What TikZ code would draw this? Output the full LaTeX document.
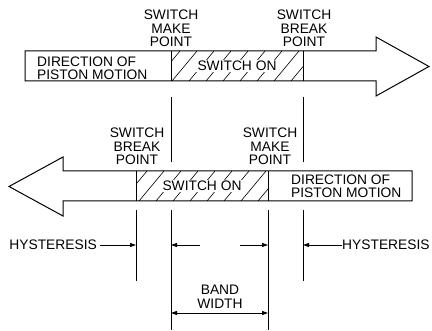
\documentclass[tikz,border=0pt]{standalone}
\usepackage{fontspec}
\setmainfont{Liberation Sans}
\usetikzlibrary{arrows.meta}
\begin{document}
\begin{tikzpicture}[x=1pt,y=-1pt,
  lbl/.style={font=\fontsize{13.8}{13.5}\selectfont, align=center, inner sep=0pt},
  lblleft/.style={font=\fontsize{13.8}{12.6}\selectfont, align=left, inner sep=0pt, anchor=north west},
  outline/.style={line width=1pt, line join=miter},
  hatchline/.style={line width=0.6pt},
  vline/.style={line width=1pt},
  tipline/.style={line width=0.9pt, -{Triangle[length=6pt,width=4pt]}},
  bothtip/.style={line width=0.9pt, {Triangle[length=6pt,width=4pt]}-{Triangle[length=6pt,width=4pt]}},
  onlabel/.style={font=\fontsize{13.8}{14}\selectfont, inner sep=1.5pt, fill=white}
  ]
\useasboundingbox (0,0) rectangle (432,331);

% ---------- top arrow (to the right) ----------
\begin{scope}
  \clip (171,51) rectangle (303,81);
  \foreach \k in {0,...,9} \draw[hatchline] ({180+17*\k},51) -- ({155+17*\k},81);
\end{scope}
\draw[outline] (25,51) -- (376,51) -- (376,37) -- (429,66.5) -- (376,96) -- (376,81) -- (25,81) -- cycle;
\draw[vline] (171,51) -- (171,81);
\draw[vline] (303,51) -- (303,81);
\node[onlabel] (on1) at (237,66) {SWITCH ON};
\node[lblleft] (dir1) at (37,57) {DIRECTION OF\\PISTON MOTION};
\node[lbl, anchor=north] (make1) at (171,10) {SWITCH\\MAKE\\POINT};
\node[lbl, anchor=north] (break1) at (304,10) {SWITCH\\BREAK\\POINT};

% ---------- bottom arrow (to the left) ----------
\begin{scope}
  \clip (136,171) rectangle (268,201);
  \foreach \k in {0,...,9} \draw[hatchline] ({147+17*\k},171) -- ({122+17*\k},201);
\end{scope}
\draw[outline] (412,171) -- (63,171) -- (63,157) -- (9,186.5) -- (63,216) -- (63,201) -- (412,201) -- cycle;
\draw[vline] (136,171) -- (136,201);
\draw[vline] (268,171) -- (268,201);
\node[onlabel] (on2) at (202,186) {SWITCH ON};
\node[lblleft] (dir2) at (291,175) {DIRECTION OF\\PISTON MOTION};
\node[lbl, anchor=north] (break2) at (137,128) {SWITCH\\BREAK\\POINT};
\node[lbl, anchor=north] (make2) at (270,128) {SWITCH\\MAKE\\POINT};

% ---------- vertical reference lines ----------
\coordinate (a1) at (171,97);  \coordinate (a2) at (171,162);
\coordinate (a3) at (171,210); \coordinate (a4) at (171,330);
\coordinate (b1) at (303,97);  \coordinate (b2) at (303,162);
\coordinate (b3) at (303,210); \coordinate (b4) at (303,281);
\coordinate (c1) at (136,210); \coordinate (c2) at (136,281);
\coordinate (d1) at (268,210); \coordinate (d2) at (268,330);
\draw[vline] (a1) -- (a2);
\draw[vline] (a3) -- (a4);
\draw[vline] (b1) -- (b2);
\draw[vline] (b3) -- (b4);
\draw[vline] (c1) -- (c2);
\draw[vline] (d1) -- (d2);

% ---------- hysteresis ----------
\node[lbl, anchor=east] (hl) at (97,245) {HYSTERESIS};
\node[lbl, anchor=west] (hr) at (342,245) {HYSTERESIS};
\coordinate (hlt) at (136,245);
\coordinate (hrt) at (303,245);
\draw[tipline, shorten <=3pt] (hl.east) -- (hlt);
\draw[tipline] (hr.west) -- (hrt);

% ---------- band width ----------
\coordinate (bw1s) at (200,245); \coordinate (bw1e) at (171,245);
\coordinate (bw2s) at (240,245); \coordinate (bw2e) at (268,245);
\draw[tipline] (bw1s) -- (bw1e);
\draw[tipline] (bw2s) -- (bw2e);
\node[lbl, anchor=north] (bw) at (220,285) {BAND\\WIDTH};
\coordinate (bwl) at (171,313); \coordinate (bwr) at (268,313);
\draw[bothtip] (bwl) -- (bwr);
\end{tikzpicture}
\end{document}
